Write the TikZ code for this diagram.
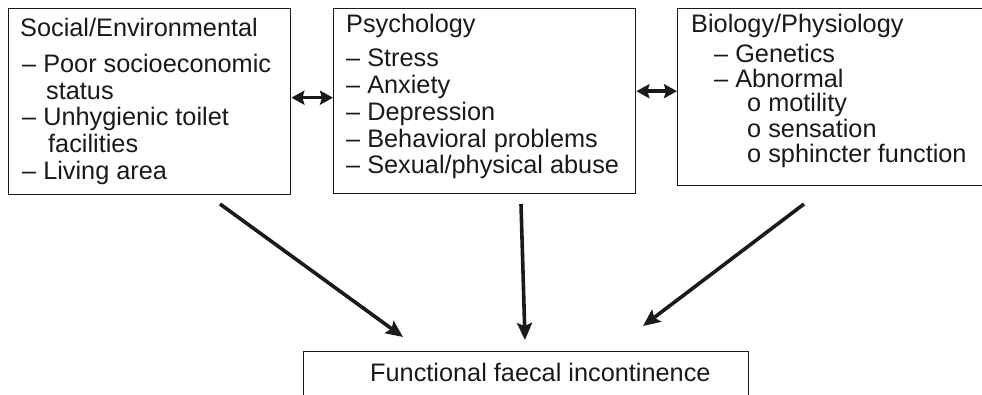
\documentclass[tikz,border=0pt]{standalone}
\usepackage{fontspec}
\setmainfont{Liberation Sans}
\usetikzlibrary{arrows.meta}
\definecolor{ink}{HTML}{1A1A1A}
\begin{document}
\begin{tikzpicture}[x=1pt,y=-1pt,
  box/.style={draw=ink,line width=1.4pt,inner sep=0pt,anchor=north west},
  txt/.style={inner sep=0pt,anchor=base west,text=ink,font=\fontsize{25.3}{28}\selectfont},
  dbl/.style={line width=3.4pt,draw=ink,{Stealth[length=13pt,width=14pt,inset=2pt]}-{Stealth[length=13pt,width=14pt,inset=2pt]}},
  arr/.style={line width=3.6pt,draw=ink,-{Stealth[length=17pt,width=15pt,inset=3pt]}}]
\clip (0,0) rectangle (982,395);
\fill[white] (0,0) rectangle (982,395);
% boxes
\node[box,minimum width=282pt,minimum height=186pt] (soc) at (8,8) {};
\node[box,minimum width=302pt,minimum height=185pt] (psy) at (333,8) {};
\node[box,minimum width=320pt,minimum height=177pt] (bio) at (677,8) {};
\node[box,minimum width=445pt,minimum height=60pt] (ffi) at (303,351) {};
% box 1 text
\node[txt] (s0) at (20,37) {Social/Environmental};
\node[txt] (s1) at (22,73) {– Poor socioeconomic};
\node[txt] (s2) at (46,99.5) {status};
\node[txt] (s3) at (22,126) {– Unhygienic toilet};
\node[txt] (s4) at (48,153) {facilities};
\node[txt] (s5) at (22,180) {– Living area};
% box 2 text
\node[txt] (p0) at (346,33) {Psychology};
\node[txt] (p1) at (346,67) {– Stress};
\node[txt] (p2) at (346,93.5) {– Anxiety};
\node[txt] (p3) at (346,120.5) {– Depression};
\node[txt] (p4) at (346,147.5) {– Behavioral problems};
\node[txt] (p5) at (346,174) {– Sexual/physical abuse};
% box 3 text
\node[txt] (b0) at (691,33) {Biology/Physiology};
\node[txt] (b1) at (714,63) {– Genetics};
\node[txt] (b2) at (714,88) {– Abnormal};
\node[txt] (b3) at (747,112) {o motility};
\node[txt] (b4) at (747,137.5) {o sensation};
\node[txt] (b5) at (747,163) {o sphincter function};
% bottom text
\node[txt] (f0) at (370,381) {Functional faecal incontinence};
% double arrows
\draw[dbl] ([yshift=4pt]soc.east) -- ([yshift=4pt]soc.east -| psy.west);
\draw[dbl] ([yshift=10pt]psy.east) -- ([yshift=10pt]psy.east -| bio.west);
% converging arrows
\coordinate (l0) at (220,204);
\coordinate (l1) at (403,337);
\coordinate (m0) at (521,204);
\coordinate (m1) at (525,340);
\coordinate (r0) at (804,204);
\coordinate (r1) at (643,326);
\draw[arr] (l0) -- (l1);
\draw[arr] (m0) -- (m1);
\draw[arr] (r0) -- (r1);
\end{tikzpicture}
\end{document}
